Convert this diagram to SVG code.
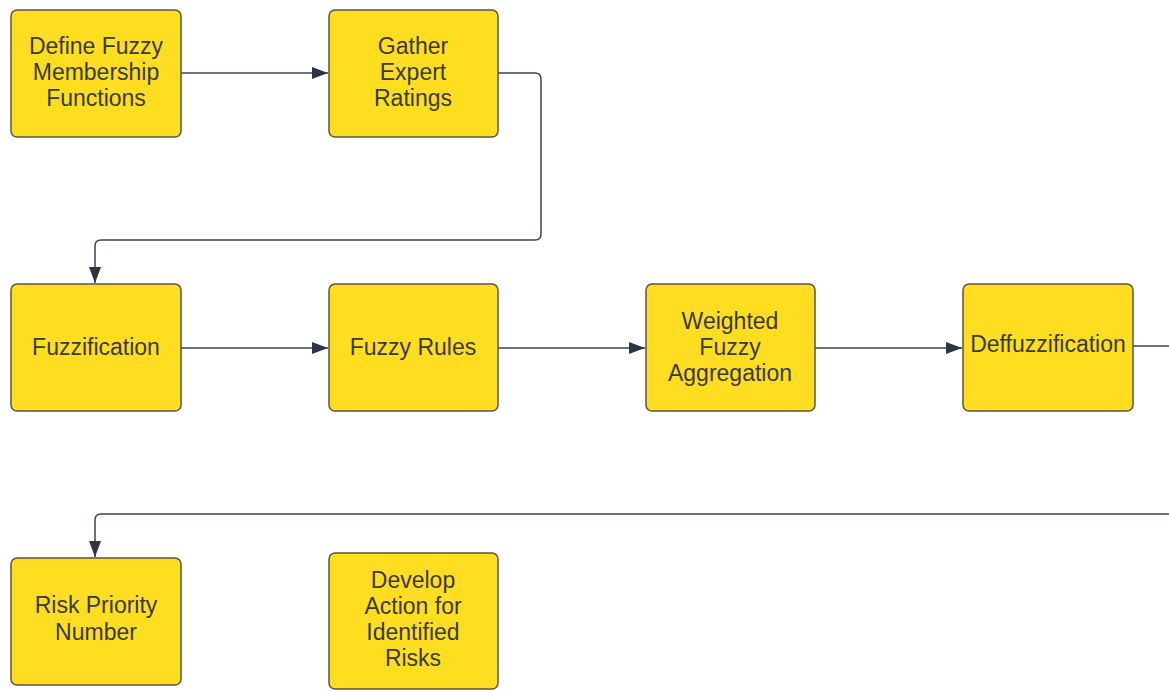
<svg xmlns="http://www.w3.org/2000/svg" width="1169" height="691" viewBox="0 0 1169 691">
<defs>
<style>
.box{fill:#FFDE21;stroke:#5b5440;stroke-width:1.5}
.t{font-family:"Liberation Sans",Arial,sans-serif;font-size:23px;fill:#3a3a3a;text-anchor:middle}
.c{fill:none;stroke:#3d4452;stroke-width:1.5}
</style>
<marker id="ah" viewBox="0 0 16 14" refX="16" refY="7" markerWidth="16" markerHeight="14" markerUnits="userSpaceOnUse" orient="auto">
<path d="M0,1 L16,7 L0,13 Z" fill="#2d3446"/>
</marker>
</defs>
<rect width="1169" height="691" fill="#ffffff"/>
<g id="connectors">
<path class="c" d="M181,73 H328" marker-end="url(#ah)"/>
<path class="c" d="M498,73 H535 Q541,73 541,79 V234 Q541,240 535,240 H101 Q95,240 95,246 V283" marker-end="url(#ah)"/>
<path class="c" d="M181,348 H328" marker-end="url(#ah)"/>
<path class="c" d="M498,348 H645" marker-end="url(#ah)"/>
<path class="c" d="M815,348 H962" marker-end="url(#ah)"/>
<path class="c" d="M1133,346 H1169"/>
<path class="c" d="M1169,514 H101 Q95,514 95,520 V557" marker-end="url(#ah)"/>
</g>
<g id="n1"><rect class="box" x="11" y="10" width="170" height="127" rx="6"/>
<text class="t" x="96" y="54">Define Fuzzy</text><text class="t" x="96" y="80">Membership</text><text class="t" x="96" y="106">Functions</text></g>
<g id="n2"><rect class="box" x="329" y="10" width="169" height="127" rx="6"/>
<text class="t" x="413" y="54">Gather</text><text class="t" x="413" y="80">Expert</text><text class="t" x="413" y="106">Ratings</text></g>
<g id="n3"><rect class="box" x="11" y="284" width="170" height="127" rx="6"/>
<text class="t" x="96" y="355">Fuzzification</text></g>
<g id="n4"><rect class="box" x="329" y="284" width="169" height="127" rx="6"/>
<text class="t" x="413" y="355">Fuzzy Rules</text></g>
<g id="n5"><rect class="box" x="646" y="284" width="169" height="127" rx="6"/>
<text class="t" x="730" y="329">Weighted</text><text class="t" x="730" y="355">Fuzzy</text><text class="t" x="730" y="381">Aggregation</text></g>
<g id="n6"><rect class="box" x="963" y="284" width="170" height="127" rx="6"/>
<text class="t" x="1048" y="352">Deffuzzification</text></g>
<g id="n7"><rect class="box" x="11" y="558" width="170" height="127" rx="6"/>
<text class="t" x="96" y="613">Risk Priority</text><text class="t" x="96" y="640">Number</text></g>
<g id="n8"><rect class="box" x="329" y="553" width="169" height="136" rx="6"/>
<text class="t" x="413" y="588">Develop</text><text class="t" x="413" y="614">Action for</text><text class="t" x="413" y="640">Identified</text><text class="t" x="413" y="666">Risks</text></g>
</svg>
